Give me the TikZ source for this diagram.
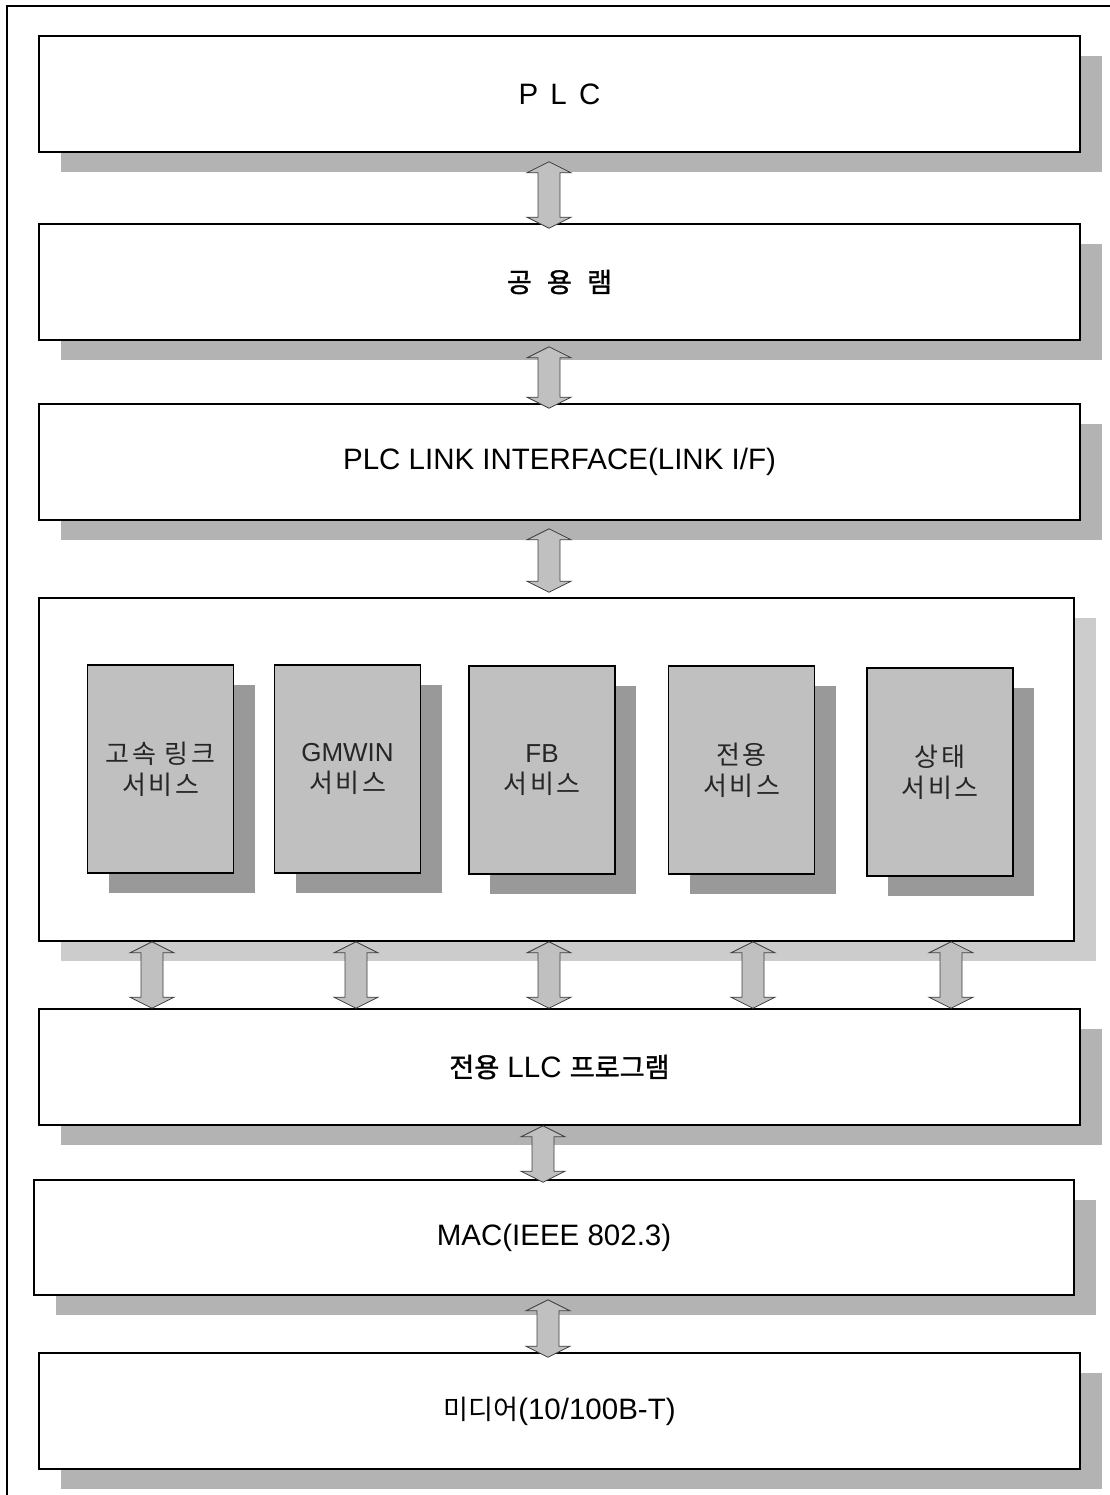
\documentclass[tikz,border=0pt]{standalone}
\usepackage{fontspec}
\setmainfont{Liberation Sans}
\newfontfamily\kr{Noto Sans CJK KR}[Scale=0.92]
\newfontfamily\krheavy{Noto Sans CJK KR}[Scale=0.92,FakeBold=1.2]
\newfontfamily\svckr{Noto Sans CJK KR}[LetterSpace=10]
\usetikzlibrary{shadows,calc}
\definecolor{shade}{HTML}{B3B3B3}
\definecolor{paleshade}{HTML}{CCCCCC}
\definecolor{svcgray}{HTML}{C0C0C0}
\definecolor{svcshade}{HTML}{999999}

% two-headed block arrow from #1 (top tip) to #2 (bottom tip)
\newcommand{\linkarrow}[2]{%
  \draw[linkarrow] let \p1=#1,\p2=#2 in
    (\x1,\y1) -- (\x1+22pt,\y1-11pt) -- (\x1+11pt,\y1-11pt) -- (\x1+11pt,\y2+11pt)
    -- (\x1+22pt,\y2+11pt) -- (\x1,\y2) -- (\x1-22pt,\y2+11pt) -- (\x1-11pt,\y2+11pt)
    -- (\x1-11pt,\y1-11pt) -- (\x1-22pt,\y1-11pt) -- cycle;}

\begin{document}
\begin{tikzpicture}[x=1pt,y=-1pt,
  layer/.style={draw,line width=1.6pt,fill=white,minimum width=1041,minimum height=116,
    font=\fontsize{29.5}{34}\selectfont,
    drop shadow={shadow xshift=22pt,shadow yshift=-20pt,fill=#1,opacity=1}},
  layer/.default=shade,
  svcbox/.style={draw,line width=1.3pt,fill=svcgray,minimum width=146,minimum height=208,
    align=center,text=black!85,font=\svckr\fontsize{26}{31}\selectfont,
    drop shadow={shadow xshift=21pt,shadow yshift=-20pt,fill=svcshade,opacity=1}},
  linkarrow/.style={draw=black!75,line width=0.8pt,fill=svcgray}]
\useasboundingbox (0,0) rectangle (1109,1495);
\draw[line width=1.6pt] (7,1520) -- (7,6) -- (1130,6);
% layers
\node[layer] (plc) at (559.5,94) {P\hspace{4pt} L\hspace{4pt} C};
\node[layer] (ram) at (559.5,282) {\krheavy 공\hspace{9pt} 용\hspace{9pt} 램};
\node[layer] (linkif) at (559.5,462) {PLC LINK INTERFACE(LINK I/F)};
\node[layer=paleshade,minimum width=1035,minimum height=343] (svc) at (556.5,769.5) {};
\node[layer] (llc) at (559.5,1067) {{\krheavy 전용} LLC {\krheavy 프로그램}};
\node[layer,minimum width=1040,minimum height=115] (mac) at (554,1237.5) {MAC(IEEE 802.3)};
\node[layer] (media) at (559.5,1411) {{\kr 미디어}(10/100B-T)};
% services
\node[svcbox] (hs) at (160.5,769) {고속 링크\\서비스};
\node[svcbox] (gm) at (347.5,769) {{\rmfamily GMWIN}\\서비스};
\node[svcbox] (fb) at (542,770) {{\rmfamily FB}\\서비스};
\node[svcbox] (ex) at (741.5,770) {전용\\서비스};
\node[svcbox] (st) at (940,772) {상태\\서비스};
% arrows
\foreach \a/\b/\ax/\ta/\tb in {plc/ram/549/9/5,ram/linkif/549/6/5,linkif/svc/549/8/-5,
    llc/mac/543/0/3,mac/media/548/4/5}
  {\linkarrow{($(\ax,0 |- \a.south)+(0,\ta)$)}{($(\ax,0 |- \b.north)+(0,\tb)$)}}
\foreach \px in {152,356,549,753,951}
  {\linkarrow{(\px,0 |- svc.south)}{(\px,0 |- llc.north)}}
\end{tikzpicture}
\end{document}
